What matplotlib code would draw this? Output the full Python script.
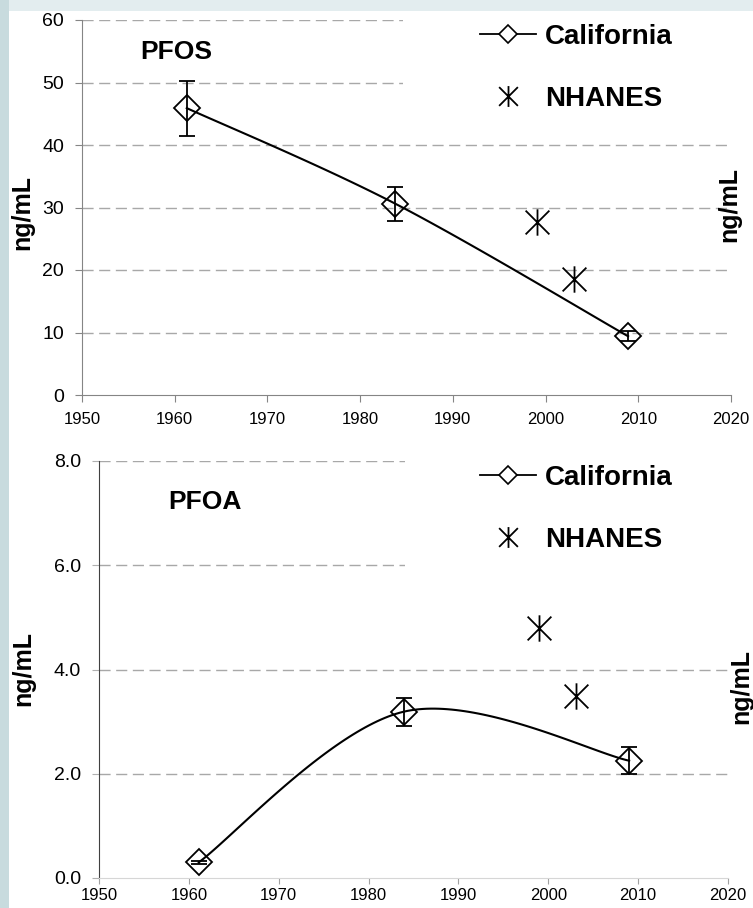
import numpy as np
import matplotlib
matplotlib.use('Agg')
import matplotlib.pyplot as plt
from matplotlib.lines import Line2D
from matplotlib.patches import Rectangle
from matplotlib.path import Path

plt.rcParams['font.family'] = ['Liberation Sans', 'DejaVu Sans']

# data
pfos_ca_years = [1961.3, 1983.8, 2008.9]
pfos_ca = [45.9, 30.6, 9.4]
pfos_ca_err = [4.4, 2.7, 0.8]
pfos_nh_years = [1999.1, 2003.1]
pfos_nh = [27.7, 18.6]

pfoa_ca_years = [1961.1, 1983.9, 2009.0]
pfoa_ca = [0.3, 3.19, 2.25]
pfoa_ca_err = [0.03, 0.27, 0.26]
pfoa_nh_years = [1999.0, 2003.1]
pfoa_nh = [4.8, 3.49]

W, H = 753, 908
def fx(x): return x / W
def fy(y): return 1 - y / H

# asterisk marker: vertical bar plus an X
star = Path([(0, -1), (0, 1), (-0.9, -0.9), (0.9, 0.9), (-0.9, 0.9), (0.9, -0.9)],
            [Path.MOVETO, Path.LINETO] * 3)

def smooth(ax, xs, ys, n=60):
    # excel-like smoothed line, computed in screen space
    x0, x1 = ax.get_xlim()
    y0, y1 = ax.get_ylim()
    bb = ax.get_position()
    sw, sh = bb.width * W, bb.height * H
    P = np.column_stack([(np.array(xs) - x0) / (x1 - x0) * sw,
                         (np.array(ys) - y0) / (y1 - y0) * sh])
    out = []
    t = np.linspace(0, 1, n)[:, None]
    for i in range(len(P) - 1):
        p0 = P[i - 1] if i > 0 else P[i]
        p1, p2 = P[i], P[i + 1]
        p3 = P[i + 2] if i + 2 < len(P) else P[i + 1]
        c1 = p1 + (p2 - p0) / 6
        c2 = p2 - (p3 - p1) / 6
        seg = (1 - t)**3 * p1 + 3 * (1 - t)**2 * t * c1 + 3 * (1 - t) * t**2 * c2 + t**3 * p2
        out.append(seg)
    out = np.vstack(out)
    return out[:, 0] / sw * (x1 - x0) + x0, out[:, 1] / sh * (y1 - y0) + y0

fig = plt.figure(figsize=(W / 100, H / 100), dpi=100)
fig.patch.set_facecolor('#c8dbde')
fig.add_artist(Rectangle((fx(9), 0), 1, fy(11), transform=fig.transFigure,
                         facecolor='white', edgecolor='none', zorder=0))
fig.add_artist(Rectangle((fx(9), fy(11)), 1, 11 / H, transform=fig.transFigure,
                         facecolor='#e3edef', edgecolor='none', zorder=0))

ax1 = fig.add_axes([fx(82), fy(395), (731 - 82) / W, (395 - 20) / H])
ax2 = fig.add_axes([fx(99), fy(878), (728 - 99) / W, (878 - 461) / H])

panels = [
    (ax1, 'PFOS', (140, 52), [0, 60], np.arange(0, 61, 10), '{:.0f}',
     pfos_ca_years, pfos_ca, pfos_ca_err, pfos_nh_years, pfos_nh,
     (22, 212), (729, 205), (403, 11, 120), 24),
    (ax2, 'PFOA', (168, 502), [0, 8], np.arange(0, 8.1, 2), '{:.1f}',
     pfoa_ca_years, pfoa_ca, pfoa_ca_err, pfoa_nh_years, pfoa_nh,
     (23, 668), (741, 686), (405, 440, 578), 465),
]

for (ax, name, tpos, ylim, yticks, fmt, cx, cy, ce, nx, ny,
     lpos, rpos, mask, leg_top) in panels:
    ax.set_facecolor('none')
    ax.set_xlim(1950, 2020)
    ax.set_ylim(*ylim)
    ax.set_xticks(np.arange(1950, 2021, 10))
    ax.set_yticks(yticks)
    ax.set_yticklabels([fmt.format(v) for v in yticks])
    for v in yticks[1:]:
        ax.axhline(v, color='#a8a8a8', lw=1, ls=(0, (8, 4)), zorder=1)
    # white legend area hides the upper grid lines
    mx, mt, mb = mask
    ax.add_patch(Rectangle((fx(mx), fy(mb)), 1, (mb - mt) / H, transform=fig.transFigure,
                           facecolor='white', edgecolor='none', zorder=1.5, clip_on=False))
    for s in ['top', 'right']:
        ax.spines[s].set_visible(False)

    ax.errorbar(cx, cy, yerr=ce, fmt='none', ecolor='black', elinewidth=1.3,
                capsize=6, capthick=1.3, zorder=3)
    sx, sy = smooth(ax, cx, cy)
    ax.plot(sx, sy, color='black', lw=1.5, zorder=3)
    ax.plot(cx, cy, ls='none', marker='D', ms=13.5, mfc='none', mec='black',
            mew=1.3, zorder=4)
    ax.plot(nx, ny, ls='none', marker=star, ms=19, color='black', mew=1.3, zorder=4)

    fig.text(fx(tpos[0]), fy(tpos[1]), name, fontsize=19, fontweight='bold',
             ha='left', va='center')
    fig.text(fx(lpos[0]), fy(lpos[1]), 'ng/mL', fontsize=18, fontweight='bold',
             rotation=90, ha='center', va='center')
    fig.text(fx(rpos[0]), fy(rpos[1]), 'ng/mL', fontsize=18, fontweight='bold',
             rotation=90, ha='center', va='center')

    handles = [
        Line2D([], [], color='black', lw=1.3, marker='D', ms=9, mfc='white',
               mec='black', mew=1.2),
        Line2D([], [], ls='none', marker=star, ms=15, color='black', mew=1.3),
    ]
    fig.legend(handles, ['California', 'NHANES'], loc='upper left',
               bbox_to_anchor=(fx(480), fy(leg_top)), frameon=False,
               prop={'size': 20, 'weight': 'bold'}, handlelength=2.0,
               handletextpad=0.35, labelspacing=1.3, borderpad=0,
               borderaxespad=0)

# axis styling
ax1.spines['left'].set_color('#858585')
ax1.spines['bottom'].set_color('#858585')
ax1.tick_params(axis='both', colors='#858585', labelcolor='black', length=5)
ax1.tick_params(axis='y', labelsize=14, pad=8)
ax1.tick_params(axis='x', labelsize=12, pad=7)

ax2.spines['left'].set_color('#404040')
ax2.spines['bottom'].set_color('#d6d6d6')
ax2.tick_params(axis='y', colors='#b0b0b0', labelcolor='black', length=5,
                labelsize=14, pad=8)
ax2.tick_params(axis='x', colors='#a0a0a0', labelcolor='black', length=4,
                labelsize=12, pad=3)

fig.savefig('out.png', dpi=100, facecolor=fig.get_facecolor())
